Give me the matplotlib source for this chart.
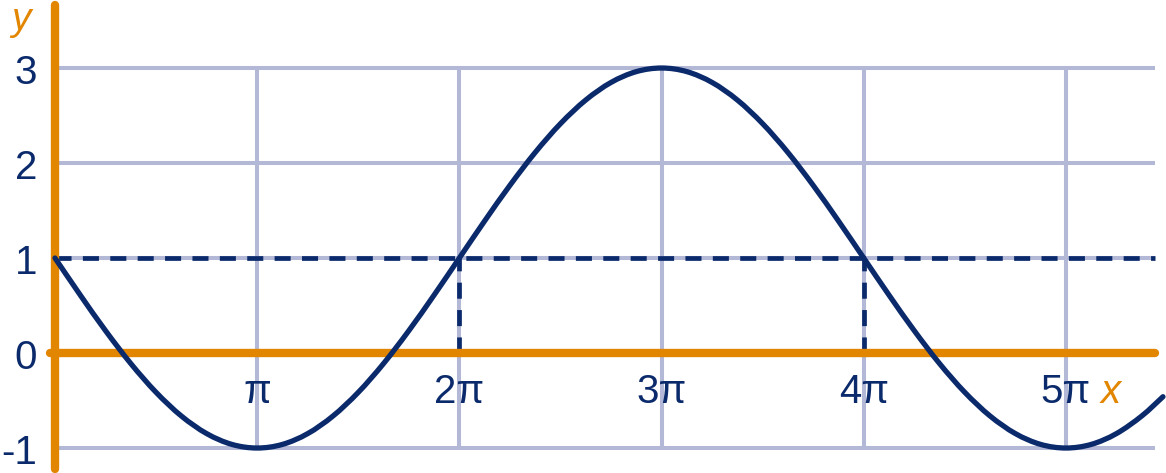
import numpy as np
from matplotlib import pyplot as plt
from matplotlib.path import Path
from matplotlib.patches import PathPatch

# curve values, x in multiples of pi (steps of pi/8)
curve_y = [1.000, 0.610, 0.235, -0.111, -0.414, -0.663, -0.848, -0.962, -1.000,
           -0.962, -0.848, -0.663, -0.414, -0.111, 0.235, 0.610, 1.000,
           1.390, 1.765, 2.111, 2.414, 2.663, 2.848, 2.962, 3.000,
           2.962, 2.848, 2.663, 2.414, 2.111, 1.765, 1.390, 1.000,
           0.610, 0.235, -0.111, -0.414, -0.663, -0.848, -0.962, -1.000,
           -0.962, -0.848, -0.663, -0.46]
curve_x = [i / 8 for i in range(len(curve_y) - 1)] + [5.48]

y_ticks = [-1, 0, 1, 2, 3]
y_tick_labels = ["-1", "0", "1", "2", "3"]
x_ticks = [1, 2, 3, 4, 5]
x_tick_labels = ["π", "2π", "3π", "4π", "5π"]
level = 1
level_crossings = [2, 4]
x_end = 5.44

navy = "#0b2a6b"
orange = "#e28600"
grid_col = "#b3b8d6"

plt.rcParams['font.family'] = ['Liberation Sans', 'DejaVu Sans']


def smooth_path(xs, ys):
    # cubic bezier segments through the points (catmull-rom style handles)
    pts = np.column_stack([xs, ys])
    n = len(pts)
    verts = [pts[0]]
    codes = [Path.MOVETO]
    for i in range(n - 1):
        p0 = pts[max(i - 1, 0)]
        p1 = pts[i]
        p2 = pts[i + 1]
        p3 = pts[min(i + 2, n - 1)]
        c1 = p1 + (p2 - p0) / 6
        c2 = p2 - (p3 - p1) / 6
        verts += [c1, c2, p2]
        codes += [Path.CURVE4] * 3
    return Path(verts, codes)


fig = plt.figure(figsize=(11.66, 4.73), dpi=100)
ax = fig.add_axes([0, 0, 1, 1])
ax.axis("off")
ax.set_xlim(-0.272, 5.495)
ax.set_ylim(-1.263, 3.716)

# grid
ax.hlines(y_ticks, 0, x_end, color=grid_col, lw=2.9, zorder=1)
ax.vlines(x_ticks, min(y_ticks), max(y_ticks), color=grid_col, lw=2.9, zorder=1)

# axes
ax.plot([-0.025, x_end], [0, 0], color=orange, lw=6, solid_capstyle="round", zorder=3)
ax.plot([0, 0], [-1.22, 3.66], color=orange, lw=6, solid_capstyle="round", zorder=3)

# dashed level line and drops
ax.plot([0, x_end], [level, level], color=navy, lw=3.4, ls=(0, (3.4, 2.4)), zorder=2)
for xc in level_crossings:
    ax.plot([xc, xc], [0, level], color=navy, lw=3.4, ls=(0, (3.4, 2.4)), zorder=2)

# curve
ax.add_patch(PathPatch(smooth_path(curve_x, curve_y), facecolor="none",
                       edgecolor=navy, lw=3.8, capstyle="round", zorder=4))

# tick labels
for yv, lab in zip(y_ticks, y_tick_labels):
    ax.text(-0.088, yv - 0.05, lab, ha="right", va="center", fontsize=29, color=navy)
for xv, lab in zip(x_ticks, x_tick_labels):
    ax.text(xv, -0.526, lab, ha="center", va="baseline", fontsize=29, color=navy)

ax.text(5.22, -0.526, "x", ha="center", va="baseline", fontsize=29, color=orange, style="italic")
ax.text(-0.17, 3.40, "y", ha="center", va="baseline", fontsize=28, color=orange, style="italic")

fig.savefig("out.png", dpi=100)
